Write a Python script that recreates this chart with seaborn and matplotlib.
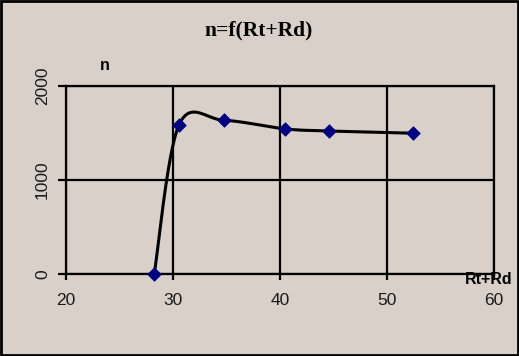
import numpy as np
import pandas as pd
import matplotlib
matplotlib.use("Agg")
import matplotlib.pyplot as plt
import seaborn as sns
from matplotlib.patches import Rectangle

# data
rt_rd = [28.25, 30.56, 34.74, 40.50, 44.55, 52.43]
n_vals = [0, 1585, 1635, 1543, 1521, 1497]
x_ticks = [20, 30, 40, 50, 60]
y_ticks = [0, 1000, 2000]
title = "n=f(Rt+Rd)"
x_label = "Rt+Rd"
y_label = "n"

BG = "#D8D0C9"
sns.set_style("white")
plt.rcParams["font.family"] = ["Liberation Sans", "DejaVu Sans"]
plt.rcParams["text.color"] = "black"

fig = plt.figure(figsize=(5.19, 3.56), dpi=100, facecolor=BG)
ax = fig.add_axes([66 / 519, 1 - 273.7 / 356, (494 - 66) / 519, (273.7 - 86) / 356])
ax.set_facecolor(BG)
ax.set_xlim(20, 60)
ax.set_ylim(0, 2000)

# Excel-style smoothed line (Bezier through the points, tension 1/6), in screen-proportional space
ASPECT = 187.7 / 428
def excel_smooth(xs, ys, xr, yr, steps=60):
    px = (np.asarray(xs, float) - xr[0]) / (xr[1] - xr[0])
    py = (np.asarray(ys, float) - yr[0]) / (yr[1] - yr[0]) * ASPECT
    P = np.column_stack([px, py])
    m = len(P)
    out = []
    for i in range(m - 1):
        p0 = P[i - 1] if i > 0 else P[i]
        p1, p2 = P[i], P[i + 1]
        p3 = P[i + 2] if i + 2 < m else P[i + 1]
        c1 = p1 + (p2 - p0) / 6
        c2 = p2 - (p3 - p1) / 6
        t = np.linspace(0, 1, steps)[:, None]
        seg = (1 - t) ** 3 * p1 + 3 * (1 - t) ** 2 * t * c1 + 3 * (1 - t) * t ** 2 * c2 + t ** 3 * p2
        out.append(seg)
    S = np.vstack(out)
    sx = S[:, 0] * (xr[1] - xr[0]) + xr[0]
    sy = S[:, 1] / ASPECT * (yr[1] - yr[0]) + yr[0]
    return sx, sy

sx, sy = excel_smooth(rt_rd, n_vals, (20, 60), (0, 2000))
curve = pd.DataFrame({"x": sx, "y": sy})
sns.lineplot(data=curve, x="x", y="y", sort=False, color="black", lw=2.2, ax=ax, zorder=3)

pts = pd.DataFrame({"x": rt_rd, "y": n_vals})
sns.scatterplot(data=pts, x="x", y="y", marker="D", s=48, color="#000080",
                edgecolor="#000080", linewidth=0.5, ax=ax, zorder=4, clip_on=False)

ax.set_xticks(x_ticks)
ax.set_yticks(y_ticks)
ax.grid(True, color="black", lw=1.6)
for s in ["left", "bottom", "top", "right"]:
    ax.spines[s].set_visible(True)
    ax.spines[s].set_color("black")
    ax.spines[s].set_linewidth(1.6)
ax.tick_params(axis="x", length=4, width=1.6, color="black", pad=10,
               labelsize=12.5, labelcolor="#1a1a1a", direction="out", bottom=True)
ax.tick_params(axis="y", length=5.5, width=1.6, color="black", pad=6,
               labelsize=12.5, labelcolor="#1a1a1a", direction="out", left=True)
for lab in ax.get_yticklabels():
    lab.set_rotation(90)
    lab.set_va("center")
ax.set_xlabel("")
ax.set_ylabel("")

fig.text(259 / 519, 1 - 30 / 356, title, ha="center", va="center", color="black",
         fontsize=15.5, fontweight="bold", family=["Liberation Serif", "DejaVu Serif"])
fig.text(105 / 519, 1 - 65 / 356, y_label, ha="center", va="center", color="black",
         fontsize=11.5, fontweight="bold")
fig.text(489 / 519, 1 - 279 / 356, x_label, ha="center", va="center", color="black",
         fontsize=11.5, fontweight="bold")

fig.patches.append(Rectangle((0.002, 0.003), 0.996, 0.994, transform=fig.transFigure,
                             fill=False, edgecolor="black", lw=2))

fig.savefig("out.png", dpi=100, facecolor=BG)
